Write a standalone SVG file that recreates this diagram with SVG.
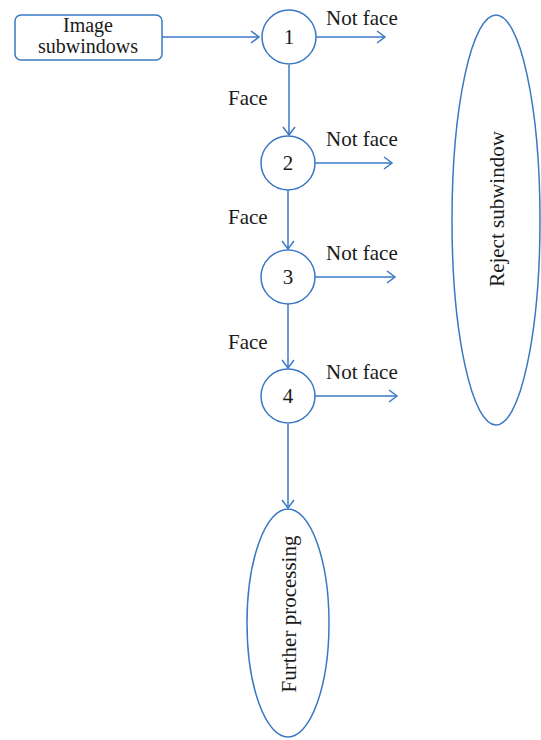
<svg xmlns="http://www.w3.org/2000/svg" width="541" height="740" viewBox="0 0 541 740">
<style>
.s{fill:none;stroke:#3b78c4;stroke-width:1.5}
.t{font-family:"Liberation Serif",serif;font-size:21px;fill:#1a1a1a}
.b{font-size:20px}
.c{text-anchor:middle}
</style>
<defs>
<marker id="a" markerWidth="14" markerHeight="14" refX="11" refY="7" orient="auto" markerUnits="userSpaceOnUse">
<path d="M3,1 L11,7 L3,13" fill="none" stroke="#3b78c4" stroke-width="1.5"/>
</marker>
</defs>
<rect width="541" height="740" fill="#fff"/>
<g id="connectors">
<line class="s" x1="162" y1="37" x2="259" y2="37" marker-end="url(#a)"/>
<line class="s" x1="316" y1="37" x2="385" y2="37" marker-end="url(#a)"/>
<line class="s" x1="289" y1="65" x2="289" y2="135" marker-end="url(#a)"/>
<line class="s" x1="315" y1="163" x2="392" y2="163" marker-end="url(#a)"/>
<line class="s" x1="288" y1="190" x2="288" y2="249" marker-end="url(#a)"/>
<line class="s" x1="315" y1="277" x2="395" y2="277" marker-end="url(#a)"/>
<line class="s" x1="288" y1="304" x2="288" y2="368" marker-end="url(#a)"/>
<line class="s" x1="315" y1="396" x2="397" y2="396" marker-end="url(#a)"/>
<line class="s" x1="288" y1="424" x2="288" y2="508" marker-end="url(#a)"/>
<text class="t" x="326" y="25">Not face</text>
<text class="t" x="326" y="146">Not face</text>
<text class="t" x="326" y="260">Not face</text>
<text class="t" x="326" y="379">Not face</text>
<text class="t" x="228" y="105">Face</text>
<text class="t" x="228" y="224">Face</text>
<text class="t" x="228" y="349">Face</text>
</g>
<g id="input">
<rect class="s" x="15" y="15" width="147" height="45" rx="6"/>
<text class="t b c" x="88" y="32">Image</text>
<text class="t b c" x="88" y="53">subwindows</text>
</g>
<g id="n1"><circle class="s" cx="289" cy="37" r="27"/><text class="t c" x="289" y="44">1</text></g>
<g id="n2"><circle class="s" cx="288" cy="163" r="27"/><text class="t c" x="288" y="170">2</text></g>
<g id="n3"><circle class="s" cx="288" cy="277" r="27"/><text class="t c" x="288" y="284">3</text></g>
<g id="n4"><circle class="s" cx="288" cy="396" r="27"/><text class="t c" x="288" y="403">4</text></g>
<g id="reject">
<ellipse class="s" cx="496" cy="220" rx="44" ry="205"/>
<text class="t c" transform="translate(504,209) rotate(-90)">Reject subwindow</text>
</g>
<g id="further">
<ellipse class="s" cx="288" cy="623" rx="41" ry="114"/>
<text class="t c" transform="translate(296,614) rotate(-90)">Further processing</text>
</g>
</svg>
